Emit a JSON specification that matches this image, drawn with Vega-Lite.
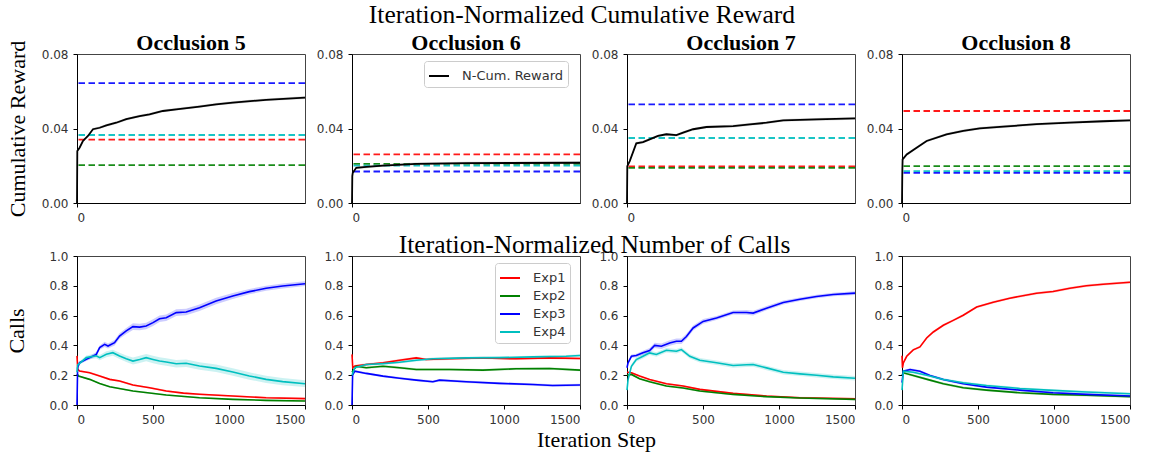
{
"$schema": "https://vega.github.io/schema/vega-lite/v6.json",
"padding": {"left": 5, "top": 3, "right": 5, "bottom": 5},
"background": "white",
"config": {
  "font": "Liberation Serif",
  "view": {"stroke": "#444", "strokeWidth": 1},
  "axis": {"grid": false, "labelFont": "DejaVu Sans", "labelFontSize": 12, "labelColor": "#333", "domainColor": "#000", "tickColor": "#000", "tickSize": 4, "labelPadding": 5, "titleFont": "Liberation Serif", "titleFontWeight": "normal", "titleFontSize": 22, "titleColor": "#000"},
  "title": {"font": "Liberation Serif", "fontSize": 22, "fontWeight": "bold", "color": "#000", "offset": -7},
  "legend": {"labelFont": "DejaVu Sans", "labelFontSize": 13, "labelColor": "#333", "strokeColor": "#ccc", "fillColor": "white", "cornerRadius": 3, "padding": 4, "symbolStrokeWidth": 2, "rowPadding": 0, "labelOffset": 12}
},
"resolve": {"scale": {"color": "independent"}, "legend": {"color": "independent"}},
"datasets": {
"base": [
{"occ":5,"exp":"Exp1","base":0.034},{"occ":5,"exp":"Exp2","base":0.0203},{"occ":5,"exp":"Exp3","base":0.0644},{"occ":5,"exp":"Exp4","base":0.0365},
{"occ":6,"exp":"Exp1","base":0.0261},{"occ":6,"exp":"Exp2","base":0.021},{"occ":6,"exp":"Exp3","base":0.0169},{"occ":6,"exp":"Exp4","base":0.0201},
{"occ":7,"exp":"Exp1","base":0.0196},{"occ":7,"exp":"Exp2","base":0.0189},{"occ":7,"exp":"Exp3","base":0.0529},{"occ":7,"exp":"Exp4","base":0.0349},
{"occ":8,"exp":"Exp1","base":0.0494},{"occ":8,"exp":"Exp2","base":0.0198},{"occ":8,"exp":"Exp3","base":0.0162},{"occ":8,"exp":"Exp4","base":0.0171}
],
"reward": [
{"occ":5,"step":0,"r":0,"lo":0,"hi":0},{"occ":5,"step":2,"r":0.0279,"lo":0.0272,"hi":0.0286},{"occ":5,"step":17,"r":0.0297,"lo":0.029,"hi":0.0304},{"occ":5,"step":39,"r":0.0333,"lo":0.0326,"hi":0.034},{"occ":5,"step":72,"r":0.036,"lo":0.0353,"hi":0.0367},{"occ":5,"step":105,"r":0.0396,"lo":0.0389,"hi":0.0403},{"occ":5,"step":149,"r":0.0404,"lo":0.0397,"hi":0.0411},{"occ":5,"step":193,"r":0.0417,"lo":0.041,"hi":0.0424},{"occ":5,"step":258,"r":0.0431,"lo":0.0424,"hi":0.0438},{"occ":5,"step":324,"r":0.045,"lo":0.0443,"hi":0.0457},{"occ":5,"step":412,"r":0.0467,"lo":0.046,"hi":0.0474},{"occ":5,"step":477,"r":0.0476,"lo":0.0469,"hi":0.0483},{"occ":5,"step":565,"r":0.0494,"lo":0.0487,"hi":0.0501},{"occ":5,"step":653,"r":0.0503,"lo":0.0496,"hi":0.051},{"occ":5,"step":806,"r":0.0518,"lo":0.0511,"hi":0.0525},{"occ":5,"step":915,"r":0.053,"lo":0.0523,"hi":0.0537},{"occ":5,"step":1025,"r":0.0539,"lo":0.0532,"hi":0.0546},{"occ":5,"step":1244,"r":0.0554,"lo":0.0547,"hi":0.0561},{"occ":5,"step":1500,"r":0.0566,"lo":0.0559,"hi":0.0573},
{"occ":6,"step":0,"r":0,"lo":0,"hi":0},{"occ":6,"step":2,"r":0.0144,"lo":0.0137,"hi":0.0151},{"occ":6,"step":5,"r":0.0162,"lo":0.0155,"hi":0.0169},{"occ":6,"step":28,"r":0.0189,"lo":0.0182,"hi":0.0196},{"occ":6,"step":94,"r":0.0194,"lo":0.0187,"hi":0.0201},{"occ":6,"step":204,"r":0.0201,"lo":0.0194,"hi":0.0208},{"occ":6,"step":423,"r":0.021,"lo":0.0203,"hi":0.0217},{"occ":6,"step":751,"r":0.0214,"lo":0.0207,"hi":0.0221},{"occ":6,"step":1500,"r":0.0216,"lo":0.0209,"hi":0.0223},
{"occ":7,"step":0,"r":0,"lo":0,"hi":0},{"occ":7,"step":2,"r":0.0198,"lo":0.0191,"hi":0.0205},{"occ":7,"step":18,"r":0.0225,"lo":0.0218,"hi":0.0232},{"occ":7,"step":61,"r":0.032,"lo":0.0313,"hi":0.0327},{"occ":7,"step":105,"r":0.0327,"lo":0.032,"hi":0.0334},{"occ":7,"step":149,"r":0.0342,"lo":0.0335,"hi":0.0349},{"occ":7,"step":204,"r":0.036,"lo":0.0353,"hi":0.0367},{"occ":7,"step":259,"r":0.0369,"lo":0.0362,"hi":0.0376},{"occ":7,"step":325,"r":0.0364,"lo":0.0357,"hi":0.0371},{"occ":7,"step":369,"r":0.0378,"lo":0.0371,"hi":0.0385},{"occ":7,"step":435,"r":0.0396,"lo":0.0389,"hi":0.0403},{"occ":7,"step":523,"r":0.0408,"lo":0.0401,"hi":0.0415},{"occ":7,"step":698,"r":0.0413,"lo":0.0406,"hi":0.042},{"occ":7,"step":808,"r":0.0422,"lo":0.0415,"hi":0.0429},{"occ":7,"step":918,"r":0.0431,"lo":0.0424,"hi":0.0438},{"occ":7,"step":1028,"r":0.0444,"lo":0.0437,"hi":0.0451},{"occ":7,"step":1247,"r":0.0449,"lo":0.0442,"hi":0.0456},{"occ":7,"step":1500,"r":0.0454,"lo":0.0447,"hi":0.0461},
{"occ":8,"step":0,"r":0,"lo":0,"hi":0},{"occ":8,"step":2,"r":0.0162,"lo":0.0155,"hi":0.0169},{"occ":8,"step":4,"r":0.0234,"lo":0.0227,"hi":0.0241},{"occ":8,"step":31,"r":0.0261,"lo":0.0254,"hi":0.0268},{"occ":8,"step":96,"r":0.0297,"lo":0.029,"hi":0.0304},{"occ":8,"step":162,"r":0.0333,"lo":0.0326,"hi":0.034},{"occ":8,"step":293,"r":0.0369,"lo":0.0362,"hi":0.0376},{"occ":8,"step":403,"r":0.0387,"lo":0.038,"hi":0.0394},{"occ":8,"step":512,"r":0.0401,"lo":0.0394,"hi":0.0408},{"occ":8,"step":666,"r":0.041,"lo":0.0403,"hi":0.0417},{"occ":8,"step":885,"r":0.0423,"lo":0.0416,"hi":0.043},{"occ":8,"step":1104,"r":0.0432,"lo":0.0425,"hi":0.0439},{"occ":8,"step":1323,"r":0.0439,"lo":0.0432,"hi":0.0446},{"occ":8,"step":1500,"r":0.0444,"lo":0.0437,"hi":0.0451}
],
"calls": [
{"occ":5,"exp":"Exp1","step":0,"c":0.33,"lo":0.324,"hi":0.336},{"occ":5,"exp":"Exp1","step":5,"c":0.24,"lo":0.234,"hi":0.246},{"occ":5,"exp":"Exp1","step":17,"c":0.228,"lo":0.222,"hi":0.234},{"occ":5,"exp":"Exp1","step":83,"c":0.217,"lo":0.211,"hi":0.223},{"occ":5,"exp":"Exp1","step":149,"c":0.195,"lo":0.189,"hi":0.201},{"occ":5,"exp":"Exp1","step":215,"c":0.172,"lo":0.166,"hi":0.178},{"occ":5,"exp":"Exp1","step":280,"c":0.161,"lo":0.155,"hi":0.167},{"occ":5,"exp":"Exp1","step":368,"c":0.134,"lo":0.128,"hi":0.14},{"occ":5,"exp":"Exp1","step":477,"c":0.116,"lo":0.11,"hi":0.122},{"occ":5,"exp":"Exp1","step":587,"c":0.094,"lo":0.088,"hi":0.1},{"occ":5,"exp":"Exp1","step":700,"c":0.08,"lo":0.074,"hi":0.086},{"occ":5,"exp":"Exp1","step":806,"c":0.072,"lo":0.066,"hi":0.078},{"occ":5,"exp":"Exp1","step":1025,"c":0.06,"lo":0.054,"hi":0.066},{"occ":5,"exp":"Exp1","step":1244,"c":0.049,"lo":0.043,"hi":0.055},{"occ":5,"exp":"Exp1","step":1500,"c":0.043,"lo":0.037,"hi":0.049},
{"occ":5,"exp":"Exp2","step":0,"c":0.21,"lo":0.205,"hi":0.215},{"occ":5,"exp":"Exp2","step":10,"c":0.195,"lo":0.19,"hi":0.2},{"occ":5,"exp":"Exp2","step":83,"c":0.172,"lo":0.167,"hi":0.177},{"occ":5,"exp":"Exp2","step":149,"c":0.145,"lo":0.14,"hi":0.15},{"occ":5,"exp":"Exp2","step":215,"c":0.123,"lo":0.118,"hi":0.128},{"occ":5,"exp":"Exp2","step":368,"c":0.094,"lo":0.089,"hi":0.099},{"occ":5,"exp":"Exp2","step":587,"c":0.067,"lo":0.062,"hi":0.072},{"occ":5,"exp":"Exp2","step":806,"c":0.049,"lo":0.044,"hi":0.054},{"occ":5,"exp":"Exp2","step":1025,"c":0.038,"lo":0.033,"hi":0.043},{"occ":5,"exp":"Exp2","step":1244,"c":0.031,"lo":0.026,"hi":0.036},{"occ":5,"exp":"Exp2","step":1500,"c":0.027,"lo":0.022,"hi":0.032},
{"occ":5,"exp":"Exp3","step":0,"c":0,"lo":0,"hi":0},{"occ":5,"exp":"Exp3","step":4,"c":0.25,"lo":0.24,"hi":0.26},{"occ":5,"exp":"Exp3","step":17,"c":0.284,"lo":0.276,"hi":0.292},{"occ":5,"exp":"Exp3","step":61,"c":0.306,"lo":0.296,"hi":0.316},{"occ":5,"exp":"Exp3","step":127,"c":0.34,"lo":0.325,"hi":0.355},{"occ":5,"exp":"Exp3","step":149,"c":0.385,"lo":0.37,"hi":0.4},{"occ":5,"exp":"Exp3","step":182,"c":0.407,"lo":0.39,"hi":0.424},{"occ":5,"exp":"Exp3","step":204,"c":0.396,"lo":0.379,"hi":0.413},{"occ":5,"exp":"Exp3","step":247,"c":0.418,"lo":0.4,"hi":0.436},{"occ":5,"exp":"Exp3","step":280,"c":0.463,"lo":0.445,"hi":0.481},{"occ":5,"exp":"Exp3","step":324,"c":0.497,"lo":0.477,"hi":0.517},{"occ":5,"exp":"Exp3","step":368,"c":0.526,"lo":0.504,"hi":0.548},{"occ":5,"exp":"Exp3","step":412,"c":0.523,"lo":0.501,"hi":0.545},{"occ":5,"exp":"Exp3","step":455,"c":0.53,"lo":0.508,"hi":0.552},{"occ":5,"exp":"Exp3","step":500,"c":0.553,"lo":0.531,"hi":0.575},{"occ":5,"exp":"Exp3","step":543,"c":0.579,"lo":0.557,"hi":0.601},{"occ":5,"exp":"Exp3","step":587,"c":0.586,"lo":0.564,"hi":0.608},{"occ":5,"exp":"Exp3","step":653,"c":0.62,"lo":0.598,"hi":0.642},{"occ":5,"exp":"Exp3","step":718,"c":0.624,"lo":0.602,"hi":0.646},{"occ":5,"exp":"Exp3","step":806,"c":0.653,"lo":0.631,"hi":0.675},{"occ":5,"exp":"Exp3","step":915,"c":0.698,"lo":0.677,"hi":0.719},{"occ":5,"exp":"Exp3","step":1025,"c":0.732,"lo":0.712,"hi":0.752},{"occ":5,"exp":"Exp3","step":1134,"c":0.761,"lo":0.743,"hi":0.779},{"occ":5,"exp":"Exp3","step":1244,"c":0.783,"lo":0.766,"hi":0.8},{"occ":5,"exp":"Exp3","step":1353,"c":0.799,"lo":0.782,"hi":0.816},{"occ":5,"exp":"Exp3","step":1500,"c":0.814,"lo":0.798,"hi":0.83},
{"occ":5,"exp":"Exp4","step":0,"c":0.22,"lo":0.21,"hi":0.23},{"occ":5,"exp":"Exp4","step":5,"c":0.27,"lo":0.26,"hi":0.28},{"occ":5,"exp":"Exp4","step":17,"c":0.28,"lo":0.268,"hi":0.292},{"occ":5,"exp":"Exp4","step":61,"c":0.318,"lo":0.304,"hi":0.332},{"occ":5,"exp":"Exp4","step":127,"c":0.33,"lo":0.313,"hi":0.347},{"occ":5,"exp":"Exp4","step":149,"c":0.318,"lo":0.3,"hi":0.336},{"occ":5,"exp":"Exp4","step":193,"c":0.34,"lo":0.32,"hi":0.36},{"occ":5,"exp":"Exp4","step":236,"c":0.351,"lo":0.331,"hi":0.371},{"occ":5,"exp":"Exp4","step":280,"c":0.329,"lo":0.308,"hi":0.35},{"occ":5,"exp":"Exp4","step":324,"c":0.311,"lo":0.289,"hi":0.333},{"occ":5,"exp":"Exp4","step":368,"c":0.295,"lo":0.272,"hi":0.318},{"occ":5,"exp":"Exp4","step":412,"c":0.306,"lo":0.282,"hi":0.33},{"occ":5,"exp":"Exp4","step":455,"c":0.318,"lo":0.293,"hi":0.343},{"occ":5,"exp":"Exp4","step":500,"c":0.306,"lo":0.281,"hi":0.331},{"occ":5,"exp":"Exp4","step":543,"c":0.295,"lo":0.27,"hi":0.32},{"occ":5,"exp":"Exp4","step":587,"c":0.289,"lo":0.264,"hi":0.314},{"occ":5,"exp":"Exp4","step":653,"c":0.277,"lo":0.252,"hi":0.302},{"occ":5,"exp":"Exp4","step":718,"c":0.28,"lo":0.255,"hi":0.305},{"occ":5,"exp":"Exp4","step":806,"c":0.262,"lo":0.237,"hi":0.287},{"occ":5,"exp":"Exp4","step":915,"c":0.246,"lo":0.221,"hi":0.271},{"occ":5,"exp":"Exp4","step":1025,"c":0.221,"lo":0.196,"hi":0.246},{"occ":5,"exp":"Exp4","step":1134,"c":0.195,"lo":0.17,"hi":0.22},{"occ":5,"exp":"Exp4","step":1244,"c":0.172,"lo":0.148,"hi":0.196},{"occ":5,"exp":"Exp4","step":1353,"c":0.157,"lo":0.133,"hi":0.181},{"occ":5,"exp":"Exp4","step":1500,"c":0.143,"lo":0.12,"hi":0.166},
{"occ":6,"exp":"Exp1","step":0,"c":0.34,"lo":0.332,"hi":0.348},{"occ":6,"exp":"Exp1","step":5,"c":0.25,"lo":0.242,"hi":0.258},{"occ":6,"exp":"Exp1","step":20,"c":0.262,"lo":0.254,"hi":0.27},{"occ":6,"exp":"Exp1","step":94,"c":0.272,"lo":0.264,"hi":0.28},{"occ":6,"exp":"Exp1","step":204,"c":0.283,"lo":0.275,"hi":0.291},{"occ":6,"exp":"Exp1","step":313,"c":0.3,"lo":0.292,"hi":0.308},{"occ":6,"exp":"Exp1","step":423,"c":0.316,"lo":0.308,"hi":0.324},{"occ":6,"exp":"Exp1","step":488,"c":0.305,"lo":0.297,"hi":0.313},{"occ":6,"exp":"Exp1","step":642,"c":0.31,"lo":0.302,"hi":0.318},{"occ":6,"exp":"Exp1","step":861,"c":0.316,"lo":0.308,"hi":0.324},{"occ":6,"exp":"Exp1","step":1080,"c":0.31,"lo":0.302,"hi":0.318},{"occ":6,"exp":"Exp1","step":1299,"c":0.316,"lo":0.308,"hi":0.324},{"occ":6,"exp":"Exp1","step":1500,"c":0.312,"lo":0.304,"hi":0.32},
{"occ":6,"exp":"Exp2","step":0,"c":0.22,"lo":0.212,"hi":0.228},{"occ":6,"exp":"Exp2","step":28,"c":0.26,"lo":0.252,"hi":0.268},{"occ":6,"exp":"Exp2","step":94,"c":0.25,"lo":0.242,"hi":0.258},{"occ":6,"exp":"Exp2","step":204,"c":0.26,"lo":0.252,"hi":0.268},{"occ":6,"exp":"Exp2","step":313,"c":0.25,"lo":0.242,"hi":0.258},{"occ":6,"exp":"Exp2","step":423,"c":0.238,"lo":0.23,"hi":0.246},{"occ":6,"exp":"Exp2","step":642,"c":0.238,"lo":0.23,"hi":0.246},{"occ":6,"exp":"Exp2","step":861,"c":0.234,"lo":0.226,"hi":0.242},{"occ":6,"exp":"Exp2","step":1080,"c":0.243,"lo":0.235,"hi":0.251},{"occ":6,"exp":"Exp2","step":1299,"c":0.245,"lo":0.237,"hi":0.253},{"occ":6,"exp":"Exp2","step":1500,"c":0.234,"lo":0.226,"hi":0.242},
{"occ":6,"exp":"Exp3","step":0,"c":0,"lo":0,"hi":0},{"occ":6,"exp":"Exp3","step":4,"c":0.2,"lo":0.192,"hi":0.208},{"occ":6,"exp":"Exp3","step":18,"c":0.227,"lo":0.219,"hi":0.235},{"occ":6,"exp":"Exp3","step":94,"c":0.212,"lo":0.204,"hi":0.22},{"occ":6,"exp":"Exp3","step":204,"c":0.194,"lo":0.186,"hi":0.202},{"occ":6,"exp":"Exp3","step":313,"c":0.18,"lo":0.172,"hi":0.188},{"occ":6,"exp":"Exp3","step":423,"c":0.167,"lo":0.159,"hi":0.175},{"occ":6,"exp":"Exp3","step":532,"c":0.156,"lo":0.148,"hi":0.164},{"occ":6,"exp":"Exp3","step":576,"c":0.167,"lo":0.159,"hi":0.175},{"occ":6,"exp":"Exp3","step":751,"c":0.156,"lo":0.148,"hi":0.164},{"occ":6,"exp":"Exp3","step":970,"c":0.145,"lo":0.137,"hi":0.153},{"occ":6,"exp":"Exp3","step":1189,"c":0.138,"lo":0.13,"hi":0.146},{"occ":6,"exp":"Exp3","step":1320,"c":0.131,"lo":0.123,"hi":0.139},{"occ":6,"exp":"Exp3","step":1500,"c":0.134,"lo":0.126,"hi":0.142},
{"occ":6,"exp":"Exp4","step":0,"c":0.2,"lo":0.192,"hi":0.208},{"occ":6,"exp":"Exp4","step":18,"c":0.25,"lo":0.242,"hi":0.258},{"occ":6,"exp":"Exp4","step":94,"c":0.272,"lo":0.264,"hi":0.28},{"occ":6,"exp":"Exp4","step":204,"c":0.278,"lo":0.27,"hi":0.286},{"occ":6,"exp":"Exp4","step":313,"c":0.287,"lo":0.279,"hi":0.295},{"occ":6,"exp":"Exp4","step":423,"c":0.3,"lo":0.292,"hi":0.308},{"occ":6,"exp":"Exp4","step":532,"c":0.31,"lo":0.302,"hi":0.318},{"occ":6,"exp":"Exp4","step":751,"c":0.316,"lo":0.308,"hi":0.324},{"occ":6,"exp":"Exp4","step":970,"c":0.318,"lo":0.31,"hi":0.326},{"occ":6,"exp":"Exp4","step":1189,"c":0.323,"lo":0.315,"hi":0.331},{"occ":6,"exp":"Exp4","step":1409,"c":0.327,"lo":0.319,"hi":0.335},{"occ":6,"exp":"Exp4","step":1500,"c":0.332,"lo":0.324,"hi":0.34},
{"occ":7,"exp":"Exp1","step":0,"c":0.22,"lo":0.214,"hi":0.226},{"occ":7,"exp":"Exp1","step":29,"c":0.216,"lo":0.21,"hi":0.222},{"occ":7,"exp":"Exp1","step":83,"c":0.194,"lo":0.188,"hi":0.2},{"occ":7,"exp":"Exp1","step":149,"c":0.171,"lo":0.165,"hi":0.177},{"occ":7,"exp":"Exp1","step":259,"c":0.143,"lo":0.137,"hi":0.149},{"occ":7,"exp":"Exp1","step":369,"c":0.127,"lo":0.121,"hi":0.133},{"occ":7,"exp":"Exp1","step":479,"c":0.105,"lo":0.099,"hi":0.111},{"occ":7,"exp":"Exp1","step":698,"c":0.078,"lo":0.072,"hi":0.084},{"occ":7,"exp":"Exp1","step":918,"c":0.06,"lo":0.054,"hi":0.066},{"occ":7,"exp":"Exp1","step":1138,"c":0.049,"lo":0.043,"hi":0.055},{"occ":7,"exp":"Exp1","step":1500,"c":0.042,"lo":0.036,"hi":0.048},
{"occ":7,"exp":"Exp2","step":0,"c":0.2,"lo":0.194,"hi":0.206},{"occ":7,"exp":"Exp2","step":29,"c":0.205,"lo":0.199,"hi":0.211},{"occ":7,"exp":"Exp2","step":83,"c":0.176,"lo":0.17,"hi":0.182},{"occ":7,"exp":"Exp2","step":149,"c":0.156,"lo":0.15,"hi":0.162},{"occ":7,"exp":"Exp2","step":259,"c":0.127,"lo":0.121,"hi":0.133},{"occ":7,"exp":"Exp2","step":369,"c":0.114,"lo":0.108,"hi":0.12},{"occ":7,"exp":"Exp2","step":479,"c":0.094,"lo":0.088,"hi":0.1},{"occ":7,"exp":"Exp2","step":698,"c":0.071,"lo":0.065,"hi":0.077},{"occ":7,"exp":"Exp2","step":918,"c":0.056,"lo":0.05,"hi":0.062},{"occ":7,"exp":"Exp2","step":1138,"c":0.047,"lo":0.041,"hi":0.053},{"occ":7,"exp":"Exp2","step":1500,"c":0.038,"lo":0.032,"hi":0.044},
{"occ":7,"exp":"Exp3","step":0,"c":0.25,"lo":0.24,"hi":0.26},{"occ":7,"exp":"Exp3","step":7,"c":0.283,"lo":0.273,"hi":0.293},{"occ":7,"exp":"Exp3","step":29,"c":0.327,"lo":0.315,"hi":0.339},{"occ":7,"exp":"Exp3","step":61,"c":0.332,"lo":0.32,"hi":0.344},{"occ":7,"exp":"Exp3","step":105,"c":0.35,"lo":0.336,"hi":0.364},{"occ":7,"exp":"Exp3","step":149,"c":0.365,"lo":0.347,"hi":0.383},{"occ":7,"exp":"Exp3","step":182,"c":0.4,"lo":0.382,"hi":0.418},{"occ":7,"exp":"Exp3","step":226,"c":0.394,"lo":0.376,"hi":0.412},{"occ":7,"exp":"Exp3","step":281,"c":0.416,"lo":0.398,"hi":0.434},{"occ":7,"exp":"Exp3","step":325,"c":0.428,"lo":0.41,"hi":0.446},{"occ":7,"exp":"Exp3","step":358,"c":0.428,"lo":0.41,"hi":0.446},{"occ":7,"exp":"Exp3","step":391,"c":0.46,"lo":0.442,"hi":0.478},{"occ":7,"exp":"Exp3","step":435,"c":0.517,"lo":0.5,"hi":0.534},{"occ":7,"exp":"Exp3","step":501,"c":0.561,"lo":0.545,"hi":0.577},{"occ":7,"exp":"Exp3","step":589,"c":0.584,"lo":0.57,"hi":0.598},{"occ":7,"exp":"Exp3","step":698,"c":0.621,"lo":0.607,"hi":0.635},{"occ":7,"exp":"Exp3","step":786,"c":0.621,"lo":0.605,"hi":0.637},{"occ":7,"exp":"Exp3","step":830,"c":0.617,"lo":0.601,"hi":0.633},{"occ":7,"exp":"Exp3","step":918,"c":0.65,"lo":0.636,"hi":0.664},{"occ":7,"exp":"Exp3","step":1028,"c":0.688,"lo":0.675,"hi":0.701},{"occ":7,"exp":"Exp3","step":1138,"c":0.71,"lo":0.698,"hi":0.722},{"occ":7,"exp":"Exp3","step":1247,"c":0.728,"lo":0.716,"hi":0.74},{"occ":7,"exp":"Exp3","step":1357,"c":0.742,"lo":0.73,"hi":0.754},{"occ":7,"exp":"Exp3","step":1500,"c":0.751,"lo":0.739,"hi":0.763},
{"occ":7,"exp":"Exp4","step":0,"c":0.1,"lo":0.09,"hi":0.11},{"occ":7,"exp":"Exp4","step":7,"c":0.171,"lo":0.16,"hi":0.182},{"occ":7,"exp":"Exp4","step":29,"c":0.26,"lo":0.247,"hi":0.273},{"occ":7,"exp":"Exp4","step":61,"c":0.305,"lo":0.29,"hi":0.32},{"occ":7,"exp":"Exp4","step":105,"c":0.327,"lo":0.312,"hi":0.342},{"occ":7,"exp":"Exp4","step":149,"c":0.35,"lo":0.335,"hi":0.365},{"occ":7,"exp":"Exp4","step":193,"c":0.339,"lo":0.324,"hi":0.354},{"occ":7,"exp":"Exp4","step":259,"c":0.367,"lo":0.352,"hi":0.382},{"occ":7,"exp":"Exp4","step":325,"c":0.361,"lo":0.346,"hi":0.376},{"occ":7,"exp":"Exp4","step":358,"c":0.372,"lo":0.357,"hi":0.387},{"occ":7,"exp":"Exp4","step":413,"c":0.327,"lo":0.312,"hi":0.342},{"occ":7,"exp":"Exp4","step":479,"c":0.3,"lo":0.285,"hi":0.315},{"occ":7,"exp":"Exp4","step":589,"c":0.283,"lo":0.268,"hi":0.298},{"occ":7,"exp":"Exp4","step":698,"c":0.265,"lo":0.25,"hi":0.28},{"occ":7,"exp":"Exp4","step":786,"c":0.27,"lo":0.255,"hi":0.285},{"occ":7,"exp":"Exp4","step":830,"c":0.272,"lo":0.257,"hi":0.287},{"occ":7,"exp":"Exp4","step":918,"c":0.249,"lo":0.234,"hi":0.264},{"occ":7,"exp":"Exp4","step":1028,"c":0.22,"lo":0.205,"hi":0.235},{"occ":7,"exp":"Exp4","step":1138,"c":0.209,"lo":0.194,"hi":0.224},{"occ":7,"exp":"Exp4","step":1247,"c":0.2,"lo":0.185,"hi":0.215},{"occ":7,"exp":"Exp4","step":1357,"c":0.189,"lo":0.174,"hi":0.204},{"occ":7,"exp":"Exp4","step":1500,"c":0.18,"lo":0.165,"hi":0.195},
{"occ":8,"exp":"Exp1","step":0,"c":0.33,"lo":0.322,"hi":0.338},{"occ":8,"exp":"Exp1","step":3,"c":0.25,"lo":0.242,"hi":0.258},{"occ":8,"exp":"Exp1","step":9,"c":0.283,"lo":0.275,"hi":0.291},{"occ":8,"exp":"Exp1","step":31,"c":0.327,"lo":0.319,"hi":0.335},{"occ":8,"exp":"Exp1","step":74,"c":0.37,"lo":0.362,"hi":0.378},{"occ":8,"exp":"Exp1","step":118,"c":0.39,"lo":0.382,"hi":0.398},{"occ":8,"exp":"Exp1","step":162,"c":0.45,"lo":0.442,"hi":0.458},{"occ":8,"exp":"Exp1","step":206,"c":0.49,"lo":0.482,"hi":0.498},{"occ":8,"exp":"Exp1","step":272,"c":0.535,"lo":0.527,"hi":0.543},{"occ":8,"exp":"Exp1","step":337,"c":0.568,"lo":0.56,"hi":0.576},{"occ":8,"exp":"Exp1","step":403,"c":0.602,"lo":0.594,"hi":0.61},{"occ":8,"exp":"Exp1","step":491,"c":0.657,"lo":0.649,"hi":0.665},{"occ":8,"exp":"Exp1","step":600,"c":0.69,"lo":0.682,"hi":0.698},{"occ":8,"exp":"Exp1","step":709,"c":0.717,"lo":0.709,"hi":0.725},{"occ":8,"exp":"Exp1","step":885,"c":0.75,"lo":0.742,"hi":0.758},{"occ":8,"exp":"Exp1","step":994,"c":0.762,"lo":0.754,"hi":0.77},{"occ":8,"exp":"Exp1","step":1104,"c":0.784,"lo":0.776,"hi":0.792},{"occ":8,"exp":"Exp1","step":1213,"c":0.8,"lo":0.792,"hi":0.808},{"occ":8,"exp":"Exp1","step":1323,"c":0.81,"lo":0.802,"hi":0.818},{"occ":8,"exp":"Exp1","step":1500,"c":0.824,"lo":0.816,"hi":0.832},
{"occ":8,"exp":"Exp2","step":0,"c":0.2,"lo":0.192,"hi":0.208},{"occ":8,"exp":"Exp2","step":9,"c":0.216,"lo":0.208,"hi":0.224},{"occ":8,"exp":"Exp2","step":74,"c":0.198,"lo":0.19,"hi":0.206},{"occ":8,"exp":"Exp2","step":184,"c":0.167,"lo":0.159,"hi":0.175},{"occ":8,"exp":"Exp2","step":272,"c":0.143,"lo":0.135,"hi":0.151},{"occ":8,"exp":"Exp2","step":403,"c":0.116,"lo":0.108,"hi":0.124},{"occ":8,"exp":"Exp2","step":556,"c":0.1,"lo":0.092,"hi":0.108},{"occ":8,"exp":"Exp2","step":775,"c":0.082,"lo":0.074,"hi":0.09},{"occ":8,"exp":"Exp2","step":994,"c":0.071,"lo":0.063,"hi":0.079},{"occ":8,"exp":"Exp2","step":1213,"c":0.065,"lo":0.057,"hi":0.073},{"occ":8,"exp":"Exp2","step":1500,"c":0.056,"lo":0.048,"hi":0.064},
{"occ":8,"exp":"Exp3","step":0,"c":0.15,"lo":0.142,"hi":0.158},{"occ":8,"exp":"Exp3","step":9,"c":0.227,"lo":0.219,"hi":0.235},{"occ":8,"exp":"Exp3","step":53,"c":0.238,"lo":0.23,"hi":0.246},{"occ":8,"exp":"Exp3","step":118,"c":0.227,"lo":0.219,"hi":0.235},{"occ":8,"exp":"Exp3","step":184,"c":0.198,"lo":0.19,"hi":0.206},{"occ":8,"exp":"Exp3","step":272,"c":0.171,"lo":0.163,"hi":0.179},{"occ":8,"exp":"Exp3","step":403,"c":0.143,"lo":0.135,"hi":0.151},{"occ":8,"exp":"Exp3","step":556,"c":0.12,"lo":0.112,"hi":0.128},{"occ":8,"exp":"Exp3","step":775,"c":0.1,"lo":0.092,"hi":0.108},{"occ":8,"exp":"Exp3","step":994,"c":0.082,"lo":0.074,"hi":0.09},{"occ":8,"exp":"Exp3","step":1213,"c":0.071,"lo":0.063,"hi":0.079},{"occ":8,"exp":"Exp3","step":1500,"c":0.06,"lo":0.052,"hi":0.068},
{"occ":8,"exp":"Exp4","step":0,"c":0.1,"lo":0.092,"hi":0.108},{"occ":8,"exp":"Exp4","step":9,"c":0.227,"lo":0.219,"hi":0.235},{"occ":8,"exp":"Exp4","step":74,"c":0.22,"lo":0.212,"hi":0.228},{"occ":8,"exp":"Exp4","step":184,"c":0.194,"lo":0.186,"hi":0.202},{"occ":8,"exp":"Exp4","step":272,"c":0.171,"lo":0.163,"hi":0.179},{"occ":8,"exp":"Exp4","step":403,"c":0.149,"lo":0.141,"hi":0.157},{"occ":8,"exp":"Exp4","step":556,"c":0.131,"lo":0.123,"hi":0.139},{"occ":8,"exp":"Exp4","step":775,"c":0.111,"lo":0.103,"hi":0.119},{"occ":8,"exp":"Exp4","step":994,"c":0.098,"lo":0.09,"hi":0.106},{"occ":8,"exp":"Exp4","step":1213,"c":0.087,"lo":0.079,"hi":0.095},{"occ":8,"exp":"Exp4","step":1500,"c":0.076,"lo":0.068,"hi":0.084}
]
},
"vconcat": [
{
"title": {"text": "Iteration-Normalized Cumulative Reward", "fontSize": 25.5, "fontWeight": "normal", "anchor": "middle", "dx": 12, "offset": 3},
"bounds": "flush",
"spacing": 47,
"hconcat": [
{"width": 228, "height": 149, "title": {"text": "Occlusion 5", "offset": -15}, "layer": [
 {"data": {"name": "base"}, "transform": [{"filter": "datum.occ == 5"}], "mark": {"type": "rule", "strokeDash": [6.5, 3.5], "strokeWidth": 1.8, "opacity": 0.9},
  "encoding": {"y": {"field": "base", "type": "quantitative", "scale": {"domain": [0, 0.08]}, "axis": {"values": [0, 0.04, 0.08], "format": ".2f", "title": "Cumulative Reward", "titlePadding": 12}},
   "color": {"field": "exp", "type": "nominal", "scale": {"domain": ["Exp1","Exp2","Exp3","Exp4"], "range": ["#ff0000","#008000","#0000ff","#00bfbf"]}, "legend": null}}},
 {"data": {"name": "reward"}, "transform": [{"filter": "datum.occ == 5"}], "mark": {"type": "area", "color": "#888", "opacity": 0.35},
  "encoding": {"x": {"field": "step", "type": "quantitative", "scale": {"domain": [0, 1500]}, "axis": {"values": [0], "title": null}}, "y": {"field": "lo", "type": "quantitative", "scale": {"domain": [0, 0.08]}, "axis": {"values": [0, 0.04, 0.08], "format": ".2f", "title": "Cumulative Reward", "titlePadding": 12}}, "y2": {"field": "hi"}}},
 {"data": {"name": "reward"}, "transform": [{"filter": "datum.occ == 5"}], "mark": {"type": "line", "strokeWidth": 1.8},
  "encoding": {"x": {"field": "step", "type": "quantitative", "scale": {"domain": [0, 1500]}, "axis": {"values": [0], "title": null}}, "y": {"field": "r", "type": "quantitative", "scale": {"domain": [0, 0.08]}, "axis": {"values": [0, 0.04, 0.08], "format": ".2f", "title": "Cumulative Reward", "titlePadding": 12}},
   "stroke": {"datum": "N-Cum. Reward", "type": "nominal", "scale": {"domain": ["N-Cum. Reward"], "range": ["#000000"]}, "legend": {"title": null, "orient": "none", "legendX": 347, "legendY": 7, "symbolSize": 400, "symbolStrokeWidth": 2}}}}
]},
{"width": 228, "height": 149, "title": "Occlusion 6", "layer": [
 {"data": {"name": "base"}, "transform": [{"filter": "datum.occ == 6"}], "mark": {"type": "rule", "strokeDash": [6.5, 3.5], "strokeWidth": 1.8, "opacity": 0.9},
  "encoding": {"y": {"field": "base", "type": "quantitative", "scale": {"domain": [0, 0.08]}, "axis": {"values": [0, 0.04, 0.08], "format": ".2f", "title": null}},
   "color": {"field": "exp", "type": "nominal", "scale": {"domain": ["Exp1","Exp2","Exp3","Exp4"], "range": ["#ff0000","#008000","#0000ff","#00bfbf"]}, "legend": null}}},
 {"data": {"name": "reward"}, "transform": [{"filter": "datum.occ == 6"}], "mark": {"type": "area", "color": "#888", "opacity": 0.35},
  "encoding": {"x": {"field": "step", "type": "quantitative", "scale": {"domain": [0, 1500]}, "axis": {"values": [0], "title": null}}, "y": {"field": "lo", "type": "quantitative", "scale": {"domain": [0, 0.08]}, "axis": {"values": [0, 0.04, 0.08], "format": ".2f", "title": null}}, "y2": {"field": "hi"}}},
 {"data": {"name": "reward"}, "transform": [{"filter": "datum.occ == 6"}], "mark": {"type": "line", "strokeWidth": 1.8},
  "encoding": {"x": {"field": "step", "type": "quantitative", "scale": {"domain": [0, 1500]}, "axis": {"values": [0], "title": null}}, "y": {"field": "r", "type": "quantitative", "scale": {"domain": [0, 0.08]}, "axis": {"values": [0, 0.04, 0.08], "format": ".2f", "title": null}},
   "stroke": {"datum": "N-Cum. Reward", "type": "nominal", "scale": {"domain": ["N-Cum. Reward"], "range": ["#000000"]}, "legend": {"title": null, "orient": "none", "legendX": 347, "legendY": 7, "symbolSize": 400, "symbolStrokeWidth": 2}}}}
]},
{"width": 228, "height": 149, "title": "Occlusion 7", "layer": [
 {"data": {"name": "base"}, "transform": [{"filter": "datum.occ == 7"}], "mark": {"type": "rule", "strokeDash": [6.5, 3.5], "strokeWidth": 1.8, "opacity": 0.9},
  "encoding": {"y": {"field": "base", "type": "quantitative", "scale": {"domain": [0, 0.08]}, "axis": {"values": [0, 0.04, 0.08], "format": ".2f", "title": null}},
   "color": {"field": "exp", "type": "nominal", "scale": {"domain": ["Exp1","Exp2","Exp3","Exp4"], "range": ["#ff0000","#008000","#0000ff","#00bfbf"]}, "legend": null}}},
 {"data": {"name": "reward"}, "transform": [{"filter": "datum.occ == 7"}], "mark": {"type": "area", "color": "#888", "opacity": 0.35},
  "encoding": {"x": {"field": "step", "type": "quantitative", "scale": {"domain": [0, 1500]}, "axis": {"values": [0], "title": null}}, "y": {"field": "lo", "type": "quantitative", "scale": {"domain": [0, 0.08]}, "axis": {"values": [0, 0.04, 0.08], "format": ".2f", "title": null}}, "y2": {"field": "hi"}}},
 {"data": {"name": "reward"}, "transform": [{"filter": "datum.occ == 7"}], "mark": {"type": "line", "strokeWidth": 1.8},
  "encoding": {"x": {"field": "step", "type": "quantitative", "scale": {"domain": [0, 1500]}, "axis": {"values": [0], "title": null}}, "y": {"field": "r", "type": "quantitative", "scale": {"domain": [0, 0.08]}, "axis": {"values": [0, 0.04, 0.08], "format": ".2f", "title": null}},
   "stroke": {"datum": "N-Cum. Reward", "type": "nominal", "scale": {"domain": ["N-Cum. Reward"], "range": ["#000000"]}, "legend": {"title": null, "orient": "none", "legendX": 347, "legendY": 7, "symbolSize": 400, "symbolStrokeWidth": 2}}}}
]},
{"width": 228, "height": 149, "title": "Occlusion 8", "layer": [
 {"data": {"name": "base"}, "transform": [{"filter": "datum.occ == 8"}], "mark": {"type": "rule", "strokeDash": [6.5, 3.5], "strokeWidth": 1.8, "opacity": 0.9},
  "encoding": {"y": {"field": "base", "type": "quantitative", "scale": {"domain": [0, 0.08]}, "axis": {"values": [0, 0.04, 0.08], "format": ".2f", "title": null}},
   "color": {"field": "exp", "type": "nominal", "scale": {"domain": ["Exp1","Exp2","Exp3","Exp4"], "range": ["#ff0000","#008000","#0000ff","#00bfbf"]}, "legend": null}}},
 {"data": {"name": "reward"}, "transform": [{"filter": "datum.occ == 8"}], "mark": {"type": "area", "color": "#888", "opacity": 0.35},
  "encoding": {"x": {"field": "step", "type": "quantitative", "scale": {"domain": [0, 1500]}, "axis": {"values": [0], "title": null}}, "y": {"field": "lo", "type": "quantitative", "scale": {"domain": [0, 0.08]}, "axis": {"values": [0, 0.04, 0.08], "format": ".2f", "title": null}}, "y2": {"field": "hi"}}},
 {"data": {"name": "reward"}, "transform": [{"filter": "datum.occ == 8"}], "mark": {"type": "line", "strokeWidth": 1.8},
  "encoding": {"x": {"field": "step", "type": "quantitative", "scale": {"domain": [0, 1500]}, "axis": {"values": [0], "title": null}}, "y": {"field": "r", "type": "quantitative", "scale": {"domain": [0, 0.08]}, "axis": {"values": [0, 0.04, 0.08], "format": ".2f", "title": null}},
   "stroke": {"datum": "N-Cum. Reward", "type": "nominal", "scale": {"domain": ["N-Cum. Reward"], "range": ["#000000"]}, "legend": {"title": null, "orient": "none", "legendX": 347, "legendY": 7, "symbolSize": 400, "symbolStrokeWidth": 2}}}}
]}
]
},
{
"title": {"text": "Iteration-Normalized Number of Calls", "fontSize": 25.5, "fontWeight": "normal", "anchor": "middle", "dx": 25, "offset": -9},
"bounds": "flush",
"spacing": 47,
"resolve": {"scale": {"color": "shared"}, "legend": {"color": "shared"}},
"hconcat": [
{"width": 228, "height": 149, "layer": [
 {"data": {"name": "calls"}, "transform": [{"filter": "datum.occ == 5"}], "mark": {"type": "area", "opacity": 0.2},
  "encoding": {"x": {"field": "step", "type": "quantitative", "scale": {"domain": [0, 1500]}, "axis": {"values": [0, 500, 1000, 1500], "format": "d", "title": null}}, "y": {"field": "lo", "type": "quantitative", "scale": {"domain": [0, 1]}, "axis": {"values": [0, 0.2, 0.4, 0.6, 0.8, 1], "format": ".1f", "title": "Calls", "titlePadding": 20}}, "y2": {"field": "hi"},
   "fill": {"field": "exp", "type": "nominal", "scale": {"domain": ["Exp1","Exp2","Exp3","Exp4"], "range": ["#ff0000","#008000","#0000ff","#00bfbf"]}, "legend": null}}},
 {"data": {"name": "calls"}, "transform": [{"filter": "datum.occ == 5"}], "mark": {"type": "line", "strokeWidth": 1.6},
  "encoding": {"x": {"field": "step", "type": "quantitative", "scale": {"domain": [0, 1500]}, "axis": {"values": [0, 500, 1000, 1500], "format": "d", "title": null}}, "y": {"field": "c", "type": "quantitative", "scale": {"domain": [0, 1]}, "axis": {"values": [0, 0.2, 0.4, 0.6, 0.8, 1], "format": ".1f", "title": "Calls", "titlePadding": 20}},
   "color": {"field": "exp", "type": "nominal", "scale": {"domain": ["Exp1","Exp2","Exp3","Exp4"], "range": ["#ff0000","#008000","#0000ff","#00bfbf"]}, "legend": {"title": null, "orient": "none", "legendX": 418, "legendY": 7, "symbolSize": 400, "symbolStrokeWidth": 2}}}}
]},
{"width": 228, "height": 149, "layer": [
 {"data": {"name": "calls"}, "transform": [{"filter": "datum.occ == 6"}], "mark": {"type": "area", "opacity": 0.2},
  "encoding": {"x": {"field": "step", "type": "quantitative", "scale": {"domain": [0, 1500]}, "axis": {"values": [0, 500, 1000, 1500], "format": "d", "title": "Iteration Step", "titleX": 244, "titlePadding": 4}}, "y": {"field": "lo", "type": "quantitative", "scale": {"domain": [0, 1]}, "axis": {"values": [0, 0.2, 0.4, 0.6, 0.8, 1], "format": ".1f", "title": null}}, "y2": {"field": "hi"},
   "fill": {"field": "exp", "type": "nominal", "scale": {"domain": ["Exp1","Exp2","Exp3","Exp4"], "range": ["#ff0000","#008000","#0000ff","#00bfbf"]}, "legend": null}}},
 {"data": {"name": "calls"}, "transform": [{"filter": "datum.occ == 6"}], "mark": {"type": "line", "strokeWidth": 1.6},
  "encoding": {"x": {"field": "step", "type": "quantitative", "scale": {"domain": [0, 1500]}, "axis": {"values": [0, 500, 1000, 1500], "format": "d", "title": "Iteration Step", "titleX": 244, "titlePadding": 4}}, "y": {"field": "c", "type": "quantitative", "scale": {"domain": [0, 1]}, "axis": {"values": [0, 0.2, 0.4, 0.6, 0.8, 1], "format": ".1f", "title": null}},
   "color": {"field": "exp", "type": "nominal", "scale": {"domain": ["Exp1","Exp2","Exp3","Exp4"], "range": ["#ff0000","#008000","#0000ff","#00bfbf"]}, "legend": {"title": null, "orient": "none", "legendX": 418, "legendY": 7, "symbolSize": 400, "symbolStrokeWidth": 2}}}}
]},
{"width": 228, "height": 149, "layer": [
 {"data": {"name": "calls"}, "transform": [{"filter": "datum.occ == 7"}], "mark": {"type": "area", "opacity": 0.2},
  "encoding": {"x": {"field": "step", "type": "quantitative", "scale": {"domain": [0, 1500]}, "axis": {"values": [0, 500, 1000, 1500], "format": "d", "title": null}}, "y": {"field": "lo", "type": "quantitative", "scale": {"domain": [0, 1]}, "axis": {"values": [0, 0.2, 0.4, 0.6, 0.8, 1], "format": ".1f", "title": null}}, "y2": {"field": "hi"},
   "fill": {"field": "exp", "type": "nominal", "scale": {"domain": ["Exp1","Exp2","Exp3","Exp4"], "range": ["#ff0000","#008000","#0000ff","#00bfbf"]}, "legend": null}}},
 {"data": {"name": "calls"}, "transform": [{"filter": "datum.occ == 7"}], "mark": {"type": "line", "strokeWidth": 1.6},
  "encoding": {"x": {"field": "step", "type": "quantitative", "scale": {"domain": [0, 1500]}, "axis": {"values": [0, 500, 1000, 1500], "format": "d", "title": null}}, "y": {"field": "c", "type": "quantitative", "scale": {"domain": [0, 1]}, "axis": {"values": [0, 0.2, 0.4, 0.6, 0.8, 1], "format": ".1f", "title": null}},
   "color": {"field": "exp", "type": "nominal", "scale": {"domain": ["Exp1","Exp2","Exp3","Exp4"], "range": ["#ff0000","#008000","#0000ff","#00bfbf"]}, "legend": {"title": null, "orient": "none", "legendX": 418, "legendY": 7, "symbolSize": 400, "symbolStrokeWidth": 2}}}}
]},
{"width": 228, "height": 149, "layer": [
 {"data": {"name": "calls"}, "transform": [{"filter": "datum.occ == 8"}], "mark": {"type": "area", "opacity": 0.2},
  "encoding": {"x": {"field": "step", "type": "quantitative", "scale": {"domain": [0, 1500]}, "axis": {"values": [0, 500, 1000, 1500], "format": "d", "title": null}}, "y": {"field": "lo", "type": "quantitative", "scale": {"domain": [0, 1]}, "axis": {"values": [0, 0.2, 0.4, 0.6, 0.8, 1], "format": ".1f", "title": null}}, "y2": {"field": "hi"},
   "fill": {"field": "exp", "type": "nominal", "scale": {"domain": ["Exp1","Exp2","Exp3","Exp4"], "range": ["#ff0000","#008000","#0000ff","#00bfbf"]}, "legend": null}}},
 {"data": {"name": "calls"}, "transform": [{"filter": "datum.occ == 8"}], "mark": {"type": "line", "strokeWidth": 1.6},
  "encoding": {"x": {"field": "step", "type": "quantitative", "scale": {"domain": [0, 1500]}, "axis": {"values": [0, 500, 1000, 1500], "format": "d", "title": null}}, "y": {"field": "c", "type": "quantitative", "scale": {"domain": [0, 1]}, "axis": {"values": [0, 0.2, 0.4, 0.6, 0.8, 1], "format": ".1f", "title": null}},
   "color": {"field": "exp", "type": "nominal", "scale": {"domain": ["Exp1","Exp2","Exp3","Exp4"], "range": ["#ff0000","#008000","#0000ff","#00bfbf"]}, "legend": {"title": null, "orient": "none", "legendX": 418, "legendY": 7, "symbolSize": 400, "symbolStrokeWidth": 2}}}}
]}
]
}
],
"spacing": 9
}
